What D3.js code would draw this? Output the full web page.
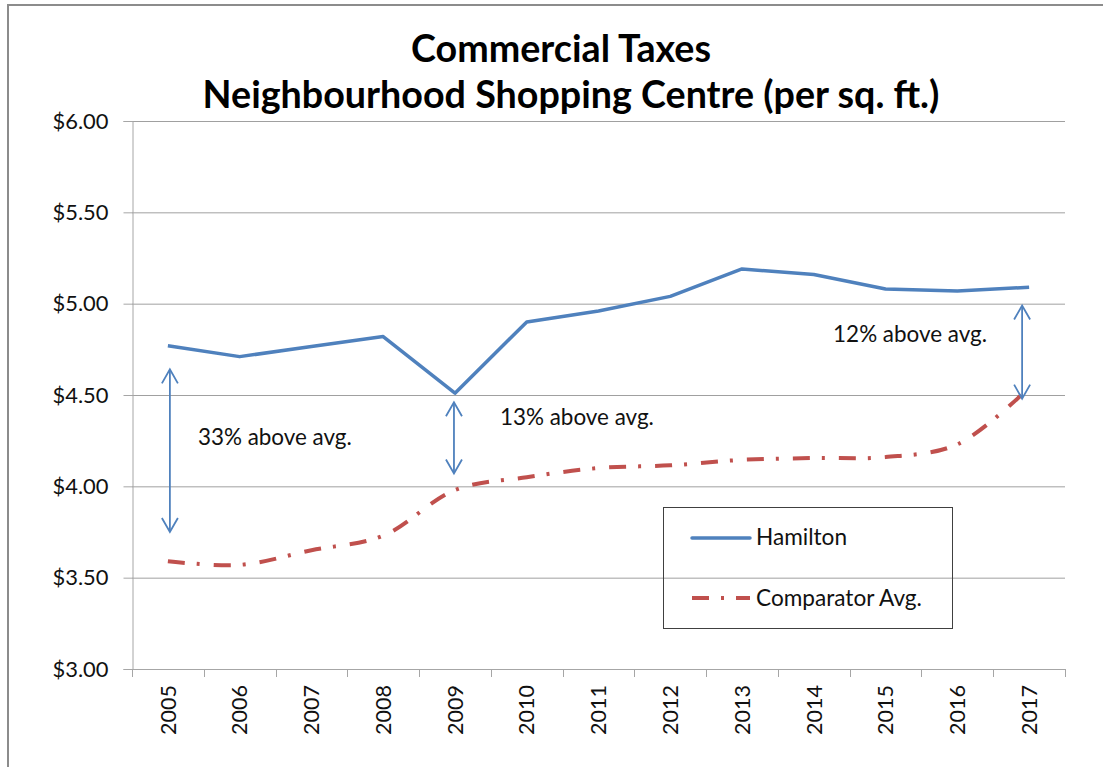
<!DOCTYPE html>
<html><head><meta charset="utf-8">
<script src="https://cdn.jsdelivr.net/npm/d3@7"></script>
<style>body{margin:0;background:#fff;overflow:hidden} svg{display:block}</style>
</head><body><svg id="c" width="1103" height="767"></svg>
<script>
const years = ["2005","2006","2007","2008","2009","2010","2011","2012","2013","2014","2015","2016","2017"];
const hamilton = [4.77,4.71,4.765,4.82,4.51,4.90,4.96,5.04,5.19,5.16,5.08,5.07,5.09];
const comparator = [3.59,3.57,3.65,3.73,3.98,4.05,4.10,4.115,4.145,4.155,4.16,4.23,4.54];
const yTicks = [3,3.5,4,4.5,5,5.5,6];
const seriesNames = ["Hamilton","Comparator Avg."];
const titleLines = ["Commercial Taxes","Neighbourhood Shopping Centre (per sq. ft.)"];
const gapYears = ["2005","2009","2017"];
const gapTop = [4.64,4.46,4.99];
const gapBottom = [3.75,4.07,4.48];
const gapLabels = ["33% above avg.","13% above avg.","12% above avg."];

const FONT = "Lato, 'Open Sans', sans-serif";
const BLUE = "#4F81BD", RED = "#C0504D";
const svg = d3.select("#c");
const L = 132, R = 1065, T = 121, B = 669;

function fitSize(text, weight, target){
  const t = svg.append("text").attr("font-family", FONT).attr("font-weight", weight).attr("font-size", 100).text(text);
  const w = t.node().getComputedTextLength(); t.remove();
  return 100 * target / w;
}

svg.append("rect").attr("x",8).attr("y",5).attr("width",1300).attr("height",1000)
  .attr("fill","none").attr("stroke","#8c8c8c").attr("stroke-width",2);

const x = d3.scaleBand().domain(years).range([L,R]).paddingInner(0).paddingOuter(0);
const xc = d => x(d) + x.bandwidth()/2;
const y = d3.scaleLinear().domain([3,6]).range([B,T]);

svg.append("g").selectAll("line").data(yTicks.filter(d=>d>3)).join("line")
  .attr("x1",L).attr("x2",R).attr("y1",d=>y(d)+0.5).attr("y2",d=>y(d)+0.5)
  .attr("stroke","#a0a0a0").attr("stroke-width",1);

const ySize = fitSize("$6.00", 400, 56);
const yAxis = svg.append("g").attr("transform",`translate(${L+0.5},0)`)
  .call(d3.axisLeft(y).tickValues(yTicks).tickFormat(d=>"$"+d.toFixed(2)).tickSize(9).tickPadding(15));
yAxis.select(".domain").attr("stroke","#a6a6a6");
yAxis.selectAll(".tick line").attr("stroke","#a6a6a6");
yAxis.selectAll(".tick text").attr("font-family",FONT).attr("font-size",ySize).attr("fill","#111");
yAxis.selectAll(".tick").attr("transform", d=>`translate(0,${y(d)+0.5})`);

const xg = svg.append("g");
xg.append("line").attr("x1",L).attr("x2",R).attr("y1",B+0.5).attr("y2",B+0.5).attr("stroke","#a6a6a6");
const bounds = years.map(d=>x(d)).concat([R]);
xg.selectAll("line.tk").data(bounds).join("line").attr("class","tk")
  .attr("x1",d=>Math.round(d)+0.5).attr("x2",d=>Math.round(d)+0.5).attr("y1",B).attr("y2",B+8)
  .attr("stroke","#a6a6a6");
const xSize = fitSize("2005", 400, 50);
xg.selectAll("text").data(years).join("text")
  .attr("transform",d=>`translate(${xc(d)},685) rotate(-90)`)
  .attr("text-anchor","end").attr("dy","0.36em")
  .attr("font-family",FONT).attr("font-size",xSize).attr("fill","#111").text(d=>d);

const lineH = d3.line().x((d,i)=>xc(years[i])).y(d=>y(d));
const lineC = d3.line().x((d,i)=>xc(years[i])).y(d=>y(d)).curve(d3.curveCatmullRom.alpha(0.5));
svg.append("path").datum(comparator).attr("d",lineC).attr("fill","none")
  .attr("stroke",RED).attr("stroke-width",4).attr("stroke-dasharray","17,12,3,14");
svg.append("path").datum(hamilton).attr("d",lineH).attr("fill","none")
  .attr("stroke",BLUE).attr("stroke-width",3.5).attr("stroke-linejoin","round");

const arrowShift = [2,-1,-7];
const ag = svg.append("g").attr("fill","none").attr("stroke",BLUE).attr("stroke-width",1.8);
gapYears.forEach((yr,i)=>{
  const ax = xc(yr)+arrowShift[i], t = y(gapTop[i]), b = y(gapBottom[i]);
  ag.append("line").attr("x1",ax).attr("x2",ax).attr("y1",t+1).attr("y2",b-1);
  ag.append("path").attr("d",`M${ax-8},${t+14}L${ax},${t}L${ax+8},${t+14}`);
  ag.append("path").attr("d",`M${ax-8},${b-14}L${ax},${b}L${ax+8},${b-14}`);
});
const annSize = fitSize(gapLabels[0], 400, 154);
const annPos = [[xc("2005")+30, 445],[xc("2009")+45, 425],[xc("2017")-196, 342]];
svg.append("g").selectAll("text").data(gapLabels).join("text")
  .attr("x",(d,i)=>annPos[i][0]).attr("y",(d,i)=>annPos[i][1])
  .attr("font-family",FONT).attr("font-size",annSize).attr("fill","#111").text(d=>d);

const lg = svg.append("g");
lg.append("rect").attr("x",663.5).attr("y",507.5).attr("width",289).attr("height",121)
  .attr("fill","none").attr("stroke","#404040").attr("stroke-width",1);
const legSize = fitSize(seriesNames[1], 400, 166);
lg.append("line").attr("x1",692).attr("x2",750).attr("y1",538).attr("y2",538)
  .attr("stroke",BLUE).attr("stroke-width",3.5).attr("stroke-linecap","round");
lg.append("line").attr("x1",692).attr("x2",750).attr("y1",598).attr("y2",598)
  .attr("stroke",RED).attr("stroke-width",4).attr("stroke-dasharray","17,12,3,12");
lg.selectAll("text").data(seriesNames).join("text")
  .attr("x",756).attr("y",(d,i)=>i?606:545)
  .attr("font-family",FONT).attr("font-size",legSize).attr("fill","#111").text(d=>d);

const tSize = fitSize(titleLines[1], 700, 737);
svg.append("text").attr("x",561).attr("y",62).attr("text-anchor","middle")
  .attr("font-family",FONT).attr("font-weight",700).attr("font-size",tSize).attr("fill","#000").text(titleLines[0]);
svg.append("text").attr("x",571).attr("y",108).attr("text-anchor","middle")
  .attr("font-family",FONT).attr("font-weight",700).attr("font-size",tSize).attr("fill","#000").text(titleLines[1]);
</script></body></html>
